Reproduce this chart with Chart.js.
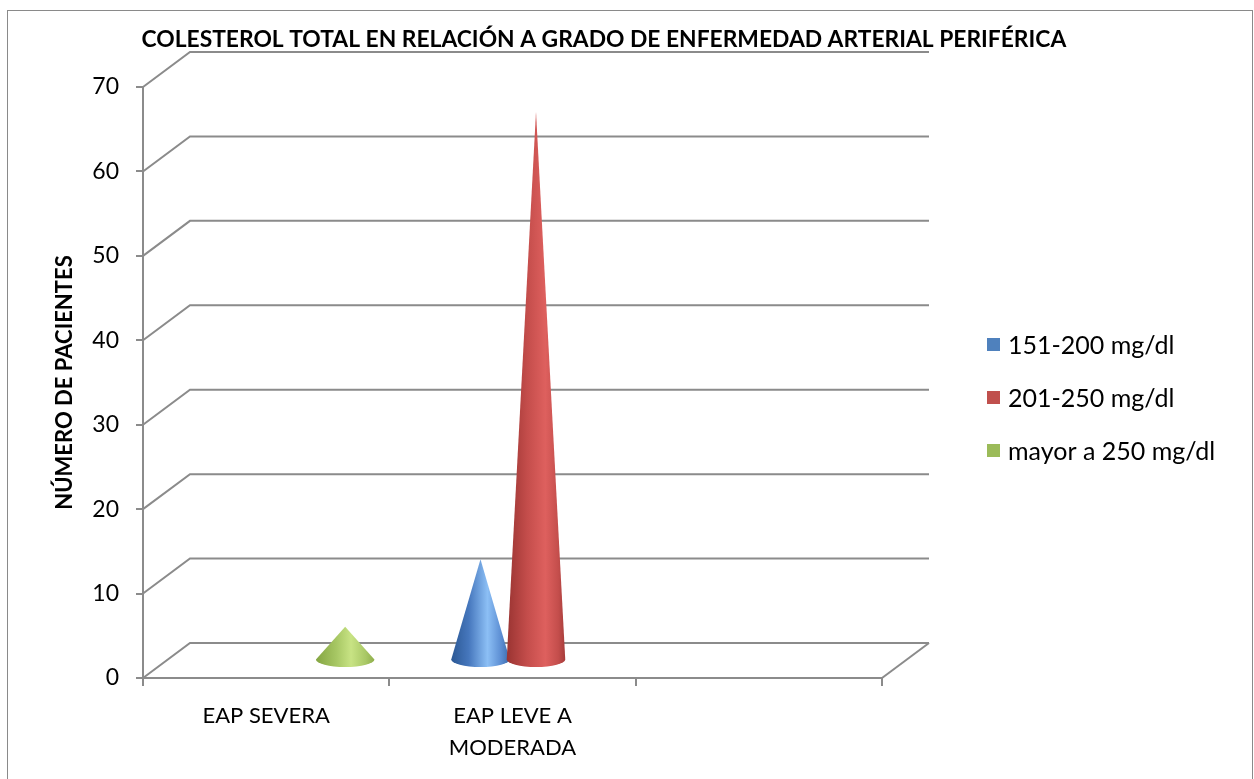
<!DOCTYPE html>
<html>
<head>
<meta charset="utf-8">
<script src="https://cdn.jsdelivr.net/npm/chart.js@4/dist/chart.umd.min.js"></script>
<style>
  html, body { margin: 0; padding: 0; background: #fff; }
  canvas { display: block; }
</style>
</head>
<body>
<canvas id="chart" width="1254" height="779"></canvas>
<script>
// ---- data ----
const categories = ['EAP SEVERA', ['EAP LEVE A', 'MODERADA'], ''];
const seriesNames = ['151-200 mg/dl', '201-250 mg/dl', 'mayor a 250 mg/dl'];
const chol151to200 = [0, 12, null];
const chol201to250 = [0, 65, null];
const cholOver250 = [4, 0, null];
const yTicks = [0, 10, 20, 30, 40, 50, 60, 70];
const chartTitle = 'COLESTEROL TOTAL EN RELACIÓN A GRADO DE ENFERMEDAD ARTERIAL PERIFÉRICA';
const yAxisTitle = 'NÚMERO DE PACIENTES';

// ---- styles ----
const FONT = 'Lato, "Open Sans", sans-serif';
const GRAY = '#8b8b8b';
const DEPTH = { dx: 47, dy: 35 };   // oblique offset of the back wall
const palette = [
  { flat: '#4f81bd', stops: [[0, '#2b5894'], [0.3, '#4677bd'], [0.62, '#8cbff5'], [0.85, '#5c8ed3'], [1, '#3c6aa9']] },
  { flat: '#c0504d', stops: [[0, '#9a3432'], [0.35, '#c44d4b'], [0.66, '#de605e'], [0.88, '#c44e4c'], [1, '#a63c3a']] },
  { flat: '#9bbb59', stops: [[0, '#84a542'], [0.35, '#a7c764'], [0.6, '#c8e384'], [0.85, '#a9c866'], [1, '#8fae4c']] }
];

function drawCone(ctx, cx, apexY, baseY, r, stops) {
  const ry = 7.5;
  const g = ctx.createLinearGradient(cx - r, 0, cx + r, 0);
  stops.forEach(([o, c]) => g.addColorStop(o, c));
  ctx.beginPath();
  ctx.moveTo(cx, apexY);
  ctx.lineTo(cx - r, baseY);
  ctx.ellipse(cx, baseY, r, ry, 0, Math.PI, 0, true);
  ctx.closePath();
  ctx.fillStyle = g;
  ctx.fill();
}

// Back wall, floor, cones, legend and title
const cone3d = {
  id: 'cone3d',
  beforeDraw(chart) {
    const ctx = chart.ctx;
    ctx.save();
    ctx.fillStyle = '#fff';
    ctx.fillRect(0, 0, chart.width, chart.height);
    ctx.strokeStyle = '#8a8a8a';
    ctx.lineWidth = 1;
    ctx.strokeRect(7.5, 10.5, 1245, 800);
    ctx.restore();
  },
  beforeDatasetsDraw(chart) {
    const ctx = chart.ctx, ys = chart.scales.y, a = chart.chartArea;
    ctx.save();
    ctx.strokeStyle = GRAY;
    ctx.lineWidth = 2;
    ys.ticks.forEach(t => {
      const py = ys.getPixelForValue(t.value);
      ctx.beginPath();
      ctx.moveTo(a.left, py);
      ctx.lineTo(a.left + DEPTH.dx, py - DEPTH.dy);
      ctx.lineTo(a.right + DEPTH.dx, py - DEPTH.dy);
      ctx.stroke();
    });
    const p0 = ys.getPixelForValue(0);
    ctx.beginPath();
    ctx.moveTo(a.right, p0);
    ctx.lineTo(a.right + DEPTH.dx, p0 - DEPTH.dy);
    ctx.stroke();

    chart.data.datasets.forEach((ds, i) => {
      const meta = chart.getDatasetMeta(i);
      meta.data.forEach((bar, j) => {
        const v = ds.data[j];
        if (!(v > 0)) return;
        const p = bar.getProps(['x', 'y', 'base', 'width'], true);
        drawCone(ctx, p.x + DEPTH.dx / 2, p.y - DEPTH.dy / 2, p.base - DEPTH.dy / 2,
                 p.width / 2 + 1.5, palette[i].stops);
      });
    });
    ctx.restore();
    return false;
  },
  afterDraw(chart) {
    const ctx = chart.ctx;
    ctx.save();
    // legend
    ctx.font = '25px ' + FONT;
    ctx.textBaseline = 'middle';
    ctx.textAlign = 'left';
    chart.data.datasets.forEach((ds, i) => {
      const cy = 344.5 + i * 53;
      ctx.fillStyle = palette[i].flat;
      ctx.fillRect(987, cy - 6.5, 13, 13);
      ctx.fillStyle = '#000';
      ctx.fillText(ds.label, 1008, cy + 1);
    });
    // title
    ctx.font = 'bold 100px ' + FONT;
    const w = ctx.measureText(chartTitle).width;
    const size = 100 * 925 / w;
    ctx.font = 'bold ' + size.toFixed(2) + 'px ' + FONT;
    ctx.textBaseline = 'alphabetic';
    ctx.fillText(chartTitle, 141.5, 46.5);
    ctx.restore();
  }
};

new Chart(document.getElementById('chart'), {
  type: 'bar',
  data: {
    labels: categories,
    datasets: [
      { label: seriesNames[0], data: chol151to200, backgroundColor: palette[0].flat },
      { label: seriesNames[1], data: chol201to250, backgroundColor: palette[1].flat },
      { label: seriesNames[2], data: cholOver250, backgroundColor: palette[2].flat }
    ]
  },
  options: {
    responsive: false,
    animation: false,
    devicePixelRatio: 1,
    layout: { padding: { top: 87, right: 372, left: 0, bottom: 0 } },
    datasets: { bar: { categoryPercentage: 0.676, barPercentage: 1 } },
    plugins: {
      legend: { display: false },
      title: { display: false },
      tooltip: { enabled: false }
    },
    scales: {
      x: {
        ticks: { color: '#000', font: { family: FONT, size: 22, lineHeight: 1.45 }, padding: 14,
                 maxRotation: 0, autoSkip: false },
        grid: { offset: true, drawOnChartArea: false, drawTicks: true, tickLength: 8, color: GRAY, lineWidth: 2 },
        border: { display: true, color: GRAY, width: 2 },
        afterFit(s) { s.height = 101; }
      },
      y: {
        min: 0, max: 70,
        afterBuildTicks(s) { s.ticks = yTicks.map(v => ({ value: v })); },
        ticks: { color: '#000', font: { family: FONT, size: 23 }, padding: 17 },
        grid: { drawOnChartArea: false, drawTicks: true, tickLength: 7, color: GRAY, lineWidth: 2 },
        border: { display: true, color: GRAY, width: 2 },
        title: { display: true, text: yAxisTitle, color: '#000',
                 font: { family: FONT, size: 22, weight: 'bold' }, padding: { top: 52, bottom: 0 } },
        afterFit(s) { s.width = 143; }
      }
    }
  },
  plugins: [cone3d]
});
</script>
</body>
</html>
